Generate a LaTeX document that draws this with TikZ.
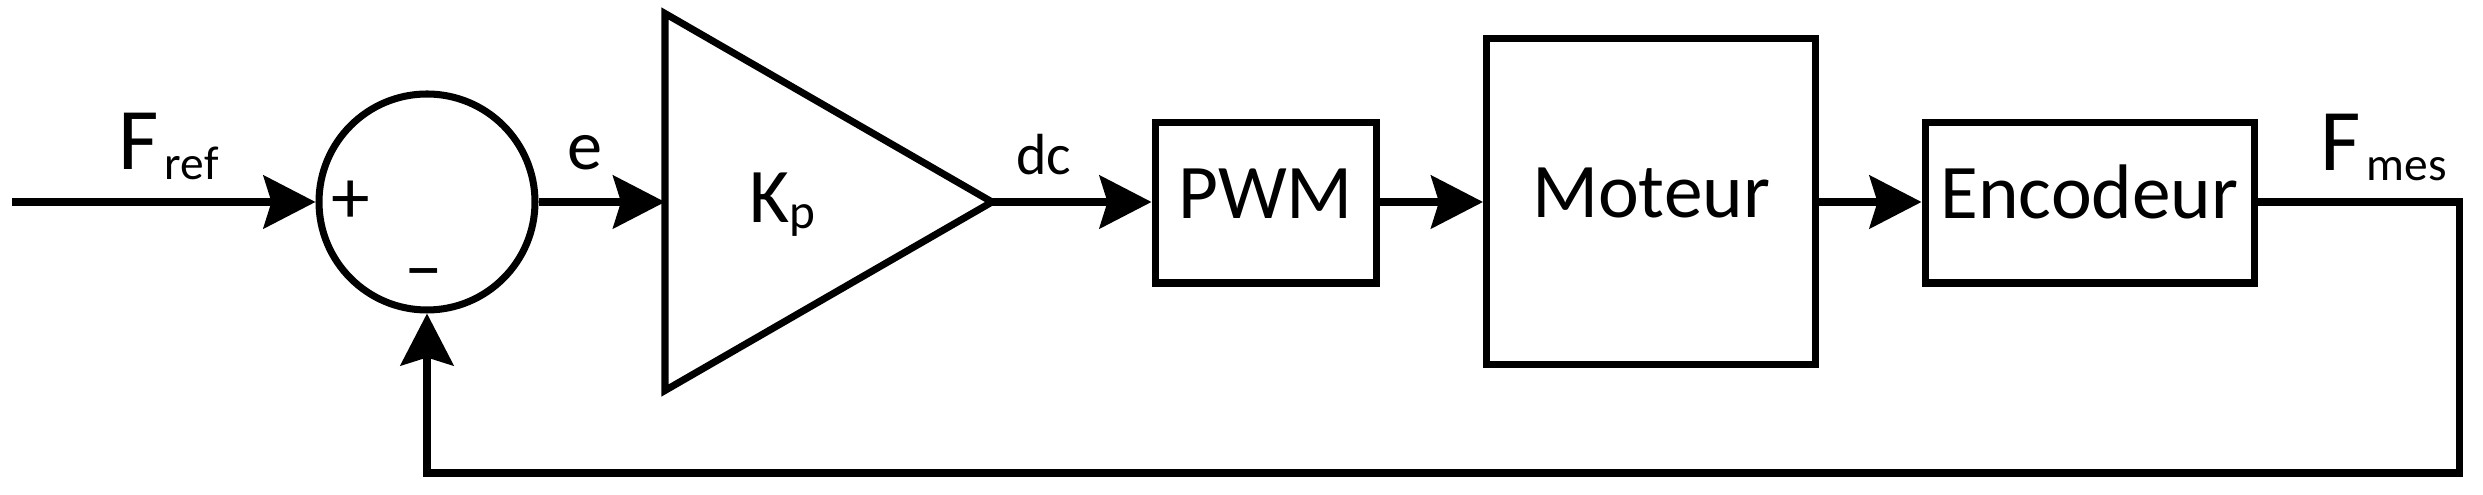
\documentclass[tikz,border=0pt]{standalone}
\usepackage{fontspec}
\setmainfont{Carlito}
\usetikzlibrary{arrows.meta}

\begin{document}
\begin{tikzpicture}[
    line width=2pt,
    sig/.style={-{Stealth[length=0.52cm,width=0.53cm,inset=0.08cm]}},
    blok/.style={draw=black, rectangle, inner sep=0pt, text height=0.5cm, text depth=0.18cm, font=\fontsize{22}{26}\selectfont},
    lbl/.style={inner sep=0pt, anchor=base west},
    sgn/.style={inner sep=0pt, font=\fontsize{22}{26}\selectfont},
    ]
    \useasboundingbox (0,0) rectangle (24.83,-4.95);

    % summing point
    \coordinate (in) at (0.12,-2.02);
    \node[draw=black, circle, minimum size=2.16cm, inner sep=0pt] (sum) at (4.27,-2.02) {};
    \node[sgn] (plus) at (3.51,-2.02) {+};
    \node[sgn] (minus) at (4.24,-2.81) {--};

    % gain
    \coordinate (gin) at (6.65,-2.02);
    \coordinate (gout) at (9.92,-2.02);
    \draw (6.65,-0.135) -- (gout) -- (6.65,-3.905) -- cycle;
    \node[lbl] (kp) at (7.46,-2.23) {\fontsize{22}{25}\selectfont K\raisebox{-0.06cm}{\fontsize{14}{16}\selectfont p}};

    % blocks
    \node[blok, minimum width=2.21cm, minimum height=1.60cm] (pwm) at (12.655,-2.03) {PWM};
    \node[blok, minimum width=3.29cm, minimum height=3.26cm] (mot) at (16.51,-2.015) {Moteur};
    \node[blok, minimum width=3.29cm, minimum height=1.60cm] (enc) at (20.895,-2.03) {Encodeur};

    \coordinate (fbr) at (24.59,-2.02);
    \coordinate (fbb) at (24.59,-4.73);

    % signals
    \draw[sig] (in) -- (sum.west);
    \draw[sig] (sum.east) -- (gin);
    \draw[sig] (gout) -- (pwm.west |- gout);
    \draw[sig] (pwm.east |- gout) -- (mot.west |- gout);
    \draw[sig] (mot.east |- gout) -- (enc.west |- gout);
    \draw[sig] (enc.east |- gout) -- (fbr) -- (fbb) -| (sum.south);

    \node[lbl] (fref) at (1.15,-1.70) {\fontsize{25}{28}\selectfont F\hspace{0.06cm}\raisebox{-0.1cm}{\fontsize{13.5}{16}\selectfont ref}};
    \node[lbl] (e) at (5.64,-1.70) {\fontsize{20}{24}\selectfont e};
    \node[lbl] (dc) at (10.13,-1.75) {\fontsize{16.5}{19}\selectfont dc};
    \node[lbl] (fmes) at (23.17,-1.71) {\fontsize{25}{28}\selectfont F\hspace{0.06cm}\raisebox{-0.1cm}{\fontsize{13.5}{16}\selectfont mes}};
\end{tikzpicture}
\end{document}
